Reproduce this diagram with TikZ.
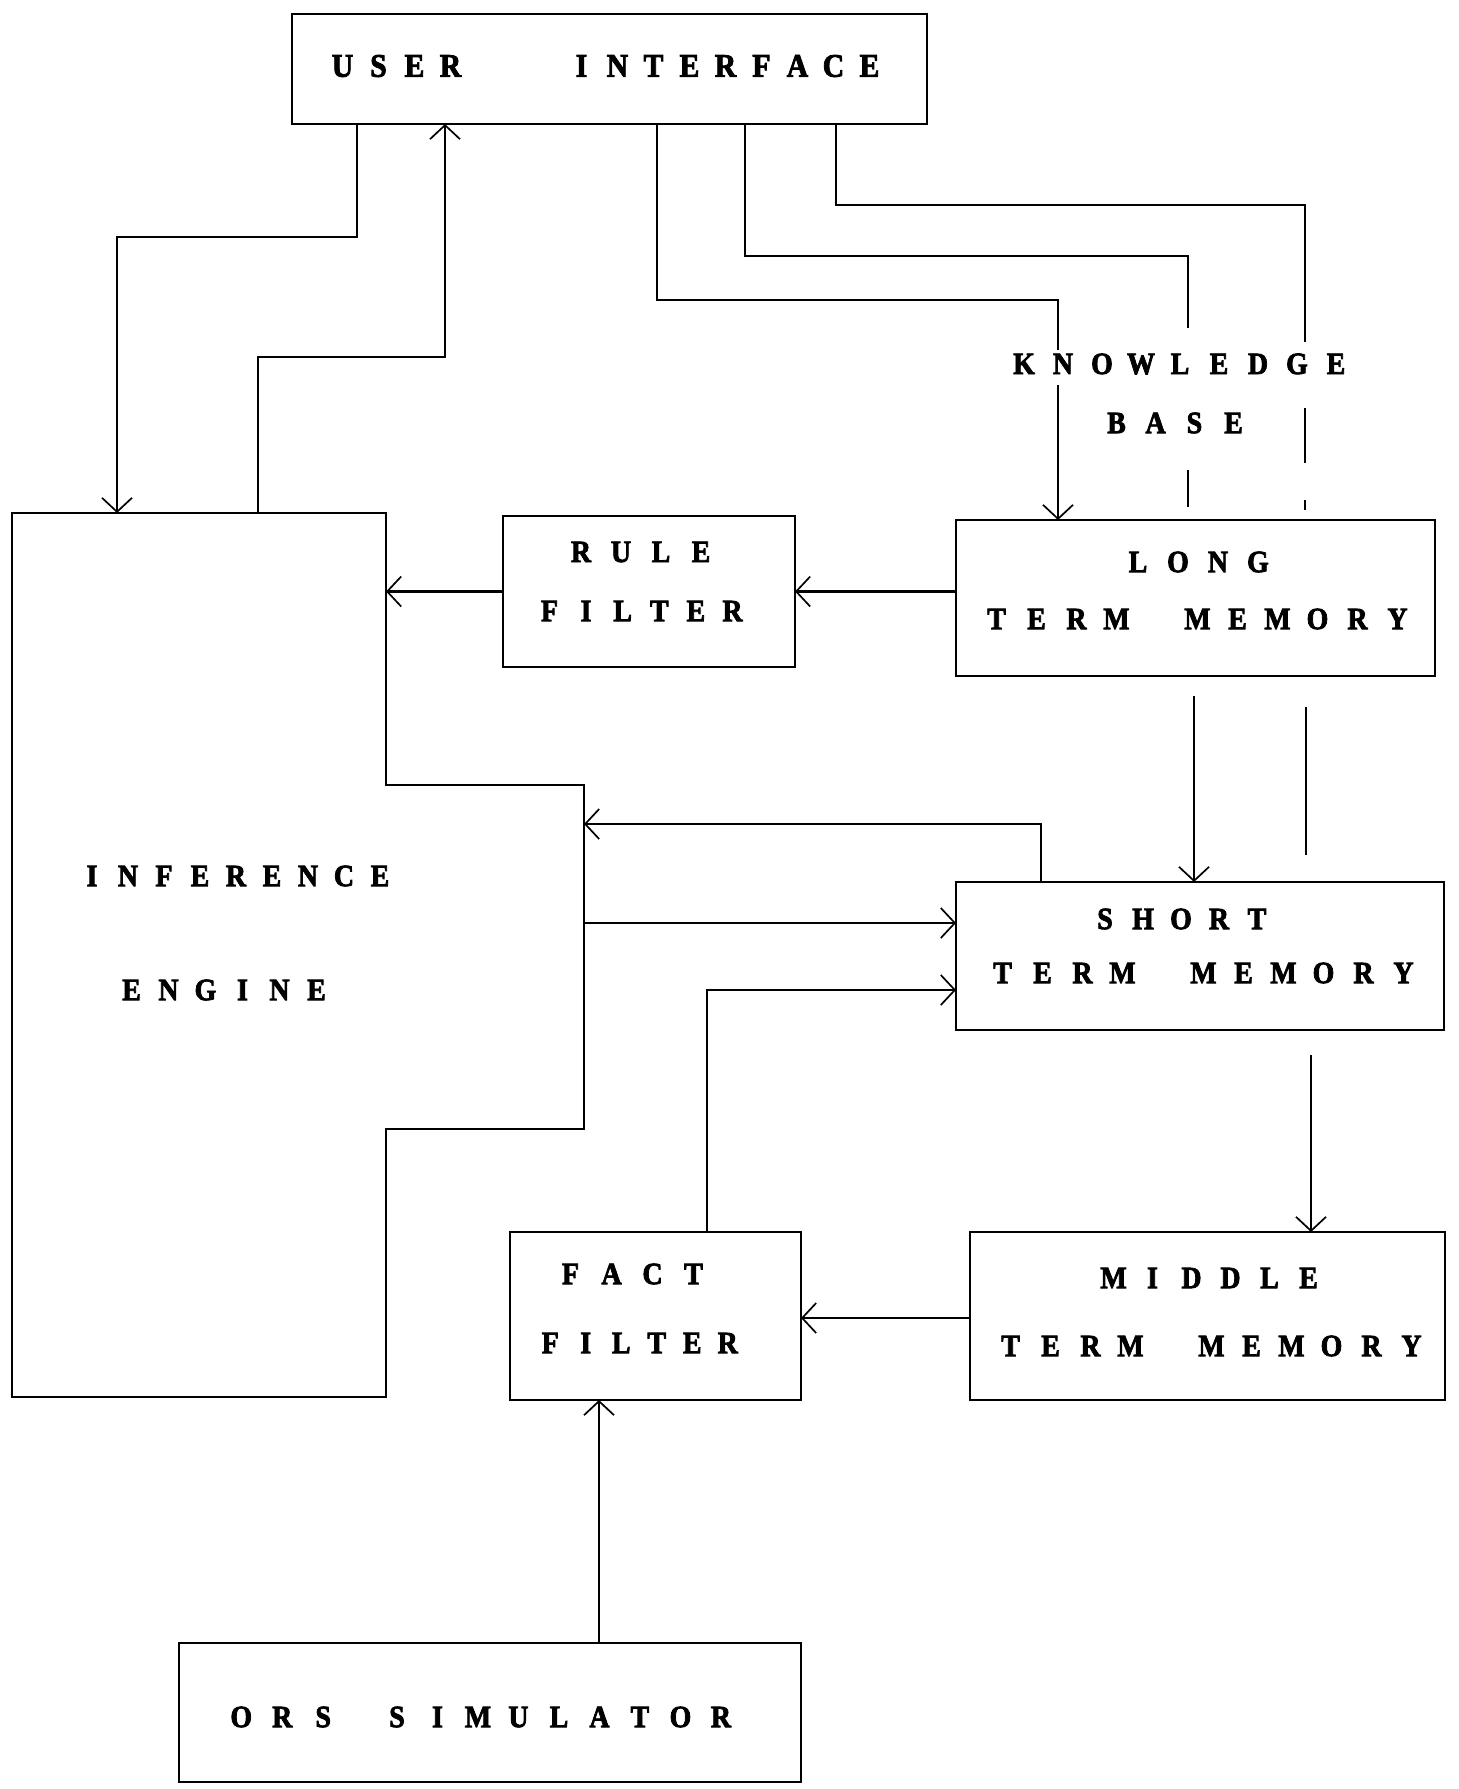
\documentclass[tikz,border=0pt]{standalone}
\usepackage{fontspec}
\usetikzlibrary{arrows.meta}
\newfontfamily\lblfont[FakeStretch=0.9,FakeBold=2.5]{Liberation Serif}
\newlength\pitchlen
\newcommand\spc[2]{\setlength\pitchlen{#1pt}\spcloop#2\relax}
\def\spcloop#1{\ifx#1\relax\else\makebox[\pitchlen]{#1}\expandafter\spcloop\fi}
\tikzset{
  box/.style={draw, line width=2.4pt, inner sep=0pt, outer sep=0pt},
  wire/.style={line width=2.2pt},
  arr/.style={-{Straight Barb[length=14pt,width=30pt,line width=1.7pt]}},
  lbl/.style={inner sep=0pt, font=\lblfont\bfseries\fontsize{31}{33}\selectfont},
  biglbl/.style={inner sep=0pt, font=\lblfont\bfseries\fontsize{33}{35}\selectfont}
}
\begin{document}
\begin{tikzpicture}[x=1pt,y=-1pt]
\useasboundingbox (0,0) rectangle (1459,1789);
% boxes
\node[box, minimum width=635pt, minimum height=110pt] (ui) at (609.5,69) {};
\node[box, minimum width=479pt, minimum height=156pt] (ltm) at (1195.5,598) {};
\node[box, minimum width=292pt, minimum height=151pt] (rf) at (649,591.5) {};
\node[box, minimum width=488pt, minimum height=148pt] (stm) at (1200,956) {};
\node[box, minimum width=475pt, minimum height=168pt] (mtm) at (1207.5,1316) {};
\node[box, minimum width=291pt, minimum height=168pt] (ff) at (655.5,1316) {};
\node[box, minimum width=622pt, minimum height=139pt] (ors) at (490,1712.5) {};
% inference engine outline
\coordinate (ie-nw) at (12,513);
\coordinate (ie-ne) at (386,513);
\coordinate (ie-e1) at (386,785);
\coordinate (ie-e2) at (584,785);
\coordinate (ie-e3) at (584,1129);
\coordinate (ie-e4) at (386,1129);
\coordinate (ie-se) at (386,1397);
\coordinate (ie-sw) at (12,1397);
\draw[line width=2.4pt] (ie-nw) -- (ie-ne) -- (ie-e1) -- (ie-e2) -- (ie-e3) -- (ie-e4) -- (ie-se) -- (ie-sw) -- cycle;
% labels
\node[biglbl] (t-ui) at (606,66) {\spc{36}{USER}\hspace{95pt}\spc{36}{INTERFACE}};
\node[lbl] (t-kb1) at (1180,364) {\spc{39}{KNOWLEDGE}};
\node[lbl] (t-kb2) at (1175,423) {\spc{39}{BASE}};
\node[lbl] (t-ltm1) at (1198,562) {\spc{40}{LONG}};
\node[lbl] (t-ltm2) at (1197,619) {\spc{40}{TERM}\hspace{41pt}\spc{40}{MEMORY}};
\node[lbl] (t-rf1) at (641,552) {\spc{40}{RULE}};
\node[lbl] (t-rf2) at (641,611) {\spc{36.6}{FILTER}};
\node[lbl] (t-ie1) at (236,876) {\spc{36}{INFERENCE}};
\node[lbl] (t-ie2) at (224,990) {\spc{37}{ENGINE}};
\node[lbl] (t-stm1) at (1181,919) {\spc{38}{SHORT}};
\node[lbl] (t-stm2) at (1203,973) {\spc{40}{TERM}\hspace{41pt}\spc{40}{MEMORY}};
\node[lbl] (t-mtm1) at (1211,1278) {\spc{39}{MIDDLE}};
\node[lbl] (t-mtm2) at (1211,1346) {\spc{40}{TERM}\hspace{41pt}\spc{40}{MEMORY}};
\node[lbl] (t-ff1) at (632,1274) {\spc{41}{FACT}};
\node[lbl] (t-ff2) at (639,1343) {\spc{35.5}{FILTER}};
\node[lbl] (t-ors) at (481,1717) {\spc{41}{ORS}\hspace{33pt}\spc{40.5}{SIMULATOR}};
% connectors from user interface
\draw[wire,arr] (357,0 |- ui.south) |- (117,237) -- (117,0 |- ie-nw);
\draw[wire,arr] (258,0 |- ie-nw) |- (445,357) -- (445,0 |- ui.south);
\draw[wire] (657,0 |- ui.south) |- (1058,300) -- (1058,350);
\draw[wire,arr] (1058,385) -- (1058,0 |- ltm.north);
\draw[wire] (745,0 |- ui.south) |- (1188,256) -- (1188,328);
\draw[wire] (1188,470) -- (1188,507);
\draw[wire] (836,0 |- ui.south) |- (1305,205) -- (1305,342);
\draw[wire] (1305,408) -- (1305,463);
\draw[wire] (1305,500) -- (1305,510);
% filters and memories
\draw[wire,arr] (ltm.west |- rf.east) -- (rf.east);
\draw[wire,arr] (rf.west) -- (rf.west -| ie-ne);
\draw[wire,arr] (1194,696) -- (1194,0 |- stm.north);
\draw[wire] (1306,707) -- (1306,855);
\draw[wire,arr] (1041,0 |- stm.north) |- (ie-e2 |- 0,824);
\draw[wire,arr] (ie-e2 |- 0,923) -- (stm.west |- 0,923);
\draw[wire,arr] (707,0 |- ff.north) |- (stm.west |- 0,990);
\draw[wire,arr] (1311,1055) -- (1311,0 |- mtm.north);
\draw[wire,arr] (mtm.west |- 0,1318) -- (ff.east |- 0,1318);
\draw[wire,arr] (599,0 |- ors.north) -- (599,0 |- ff.south);
\end{tikzpicture}
\end{document}
